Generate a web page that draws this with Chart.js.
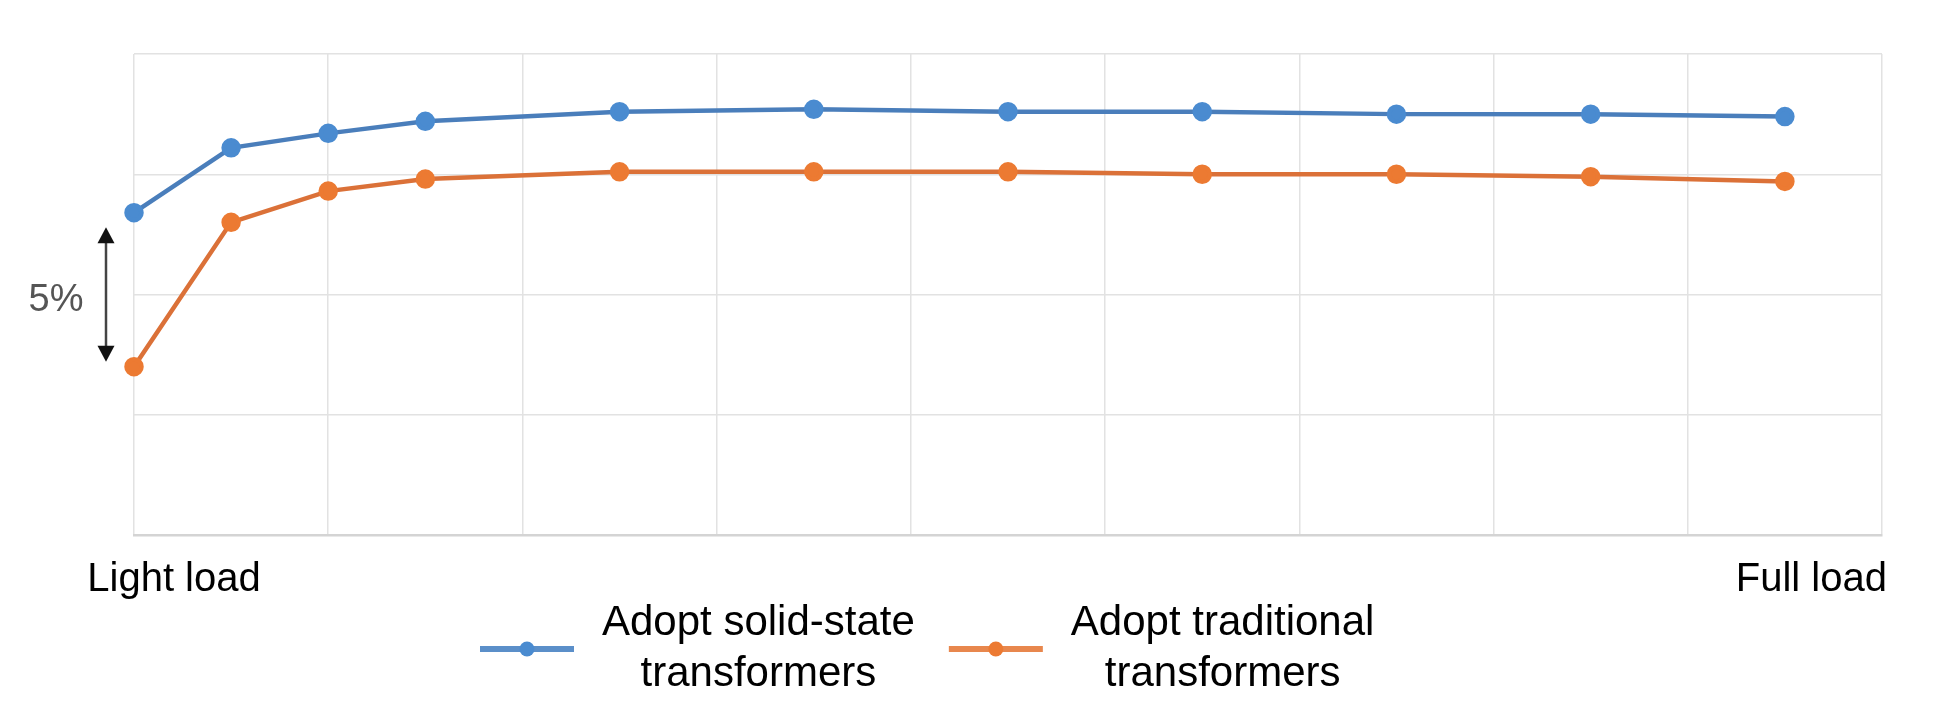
<!DOCTYPE html>
<html>
<head>
<meta charset="utf-8">
<title>Efficiency vs load</title>
<script src="https://cdn.jsdelivr.net/npm/chart.js@4.4.0/dist/chart.umd.min.js"></script>
<style>
    html, body { margin: 0; padding: 0; background: #fff; }
</style>
</head>
<body>
<canvas id="efficiencyChart" width="1942" height="723"></canvas>
<script>
// Load steps (x) and efficiency in % (y)
var loadSteps = [0, 0.5, 1, 1.5, 2.5, 3.5, 4.5, 5.5, 6.5, 7.5, 8.5];
var solidState = [93.4, 96.1, 96.7, 97.2, 97.6, 97.7, 97.6, 97.6, 97.5, 97.5, 97.4];
var traditional = [87.0, 93.0, 94.3, 94.8, 95.1, 95.1, 95.1, 95.0, 95.0, 94.9, 94.7];
var xTickLabels = ['Light load', 'Full load'];
var seriesNames = [['Adopt solid-state', 'transformers'], ['Adopt traditional', 'transformers']];
var gapLabel = '5%';
var gapRange = [87.2, 92.8];

var FONT = '"Liberation Sans", Arial, sans-serif';
Chart.defaults.font.family = FONT;

function toPoints(values) {
    return loadSteps.map(function (x, i) {
        return { x: x, y: values[i] };
    });
}

// Double arrow + "5%" on the left of the plot
var gapArrowPlugin = {
    id: 'gapArrow',
    afterDatasetsDraw: function (chart) {
        var ctx = chart.ctx;
        var yScale = chart.scales.y;
        var top = yScale.getPixelForValue(gapRange[1]);
        var bottom = yScale.getPixelForValue(gapRange[0]);
        var x = chart.chartArea.left - 28;

        ctx.save();
        ctx.strokeStyle = '#444';
        ctx.lineWidth = 2.5;
        ctx.beginPath();
        ctx.moveTo(x, top + 10);
        ctx.lineTo(x, bottom - 10);
        ctx.stroke();

        ctx.fillStyle = '#111';
        ctx.beginPath();
        ctx.moveTo(x, top);
        ctx.lineTo(x - 8.5, top + 16);
        ctx.lineTo(x + 8.5, top + 16);
        ctx.closePath();
        ctx.fill();
        ctx.beginPath();
        ctx.moveTo(x, bottom);
        ctx.lineTo(x - 8.5, bottom - 16);
        ctx.lineTo(x + 8.5, bottom - 16);
        ctx.closePath();
        ctx.fill();

        ctx.font = '38px ' + FONT;
        ctx.fillStyle = '#555';
        ctx.textAlign = 'center';
        ctx.textBaseline = 'middle';
        ctx.fillText(gapLabel, x - 50, (top + bottom) / 2 + 6);
        ctx.restore();
    }
};

// Legend with a line+dot marker and two-line centred text
var twoLineLegendPlugin = {
    id: 'twoLineLegend',
    afterDraw: function (chart, args, opts) {
        var ctx = chart.ctx;
        var x = opts.left;
        ctx.save();
        ctx.font = opts.fontSize + 'px ' + FONT;
        ctx.textAlign = 'center';
        ctx.textBaseline = 'middle';

        chart.data.datasets.forEach(function (ds) {
            var lines = ds.label;
            var textW = Math.max.apply(null, lines.map(function (l) { return ctx.measureText(l).width; }));

            ctx.strokeStyle = ds.legendColor;
            ctx.lineWidth = 6;
            ctx.beginPath();
            ctx.moveTo(x, opts.markerY);
            ctx.lineTo(x + opts.markerWidth, opts.markerY);
            ctx.stroke();
            ctx.fillStyle = ds.pointBackgroundColor;
            ctx.beginPath();
            ctx.arc(x + opts.markerWidth / 2, opts.markerY, 7.5, 0, Math.PI * 2);
            ctx.fill();

            var cx = x + opts.markerWidth + opts.gap + textW / 2;
            var y0 = opts.markerY - (lines.length - 1) * opts.lineHeight / 2;
            ctx.fillStyle = '#000';
            lines.forEach(function (l, i) {
                ctx.fillText(l, cx, y0 + i * opts.lineHeight);
            });

            x += opts.markerWidth + opts.gap + textW + opts.itemGap;
        });
        ctx.restore();
    }
};

var ctx = document.getElementById('efficiencyChart');

var chart = new Chart(ctx, {
    type: 'line',
    data: {
        datasets: [
            {
                label: seriesNames[0],
                data: toPoints(solidState),
                borderColor: '#4a7ebb',
                backgroundColor: '#4a8bd0',
                pointBackgroundColor: '#4a8bd0',
                pointBorderColor: '#4a8bd0',
                legendColor: '#5b8fc9',
                borderWidth: 4.5,
                pointRadius: 7.5,
                tension: 0,
                clip: false
            },
            {
                label: seriesNames[1],
                data: toPoints(traditional),
                borderColor: '#db7138',
                backgroundColor: '#ec7a32',
                pointBackgroundColor: '#ec7a32',
                pointBorderColor: '#ec7a32',
                legendColor: '#e8874d',
                borderWidth: 4.5,
                pointRadius: 7.5,
                tension: 0,
                clip: false
            }
        ]
    },
    options: {
        responsive: false,
        animation: false,
        layout: {
            padding: { left: 134, right: 60, top: 54, bottom: 0 }
        },
        plugins: {
            legend: { display: false },
            tooltip: { enabled: false },
            twoLineLegend: {
                left: 480,
                markerY: 649,
                markerWidth: 94,
                gap: 28,
                itemGap: 34,
                lineHeight: 51,
                fontSize: 42
            }
        },
        scales: {
            x: {
                type: 'linear',
                position: 'bottom',
                min: 0,
                max: 9,
                ticks: { stepSize: 1, display: false },
                grid: { color: '#e2e2e2', lineWidth: 1.5, drawTicks: false },
                border: { display: true, color: '#d4d4d4', width: 2.5 },
                afterFit: function (scale) { scale.height = 0; }
            },
            x2: {
                type: 'linear',
                position: 'bottom',
                min: 0,
                max: 9,
                grid: { display: false, drawTicks: false },
                border: { display: false },
                afterBuildTicks: function (scale) {
                    // label centres: under the left edge and near the right edge
                    scale.ticks = [{ value: 0.206 }, { value: 8.636 }];
                },
                ticks: {
                    autoSkip: false,
                    maxRotation: 0,
                    padding: 21,
                    color: '#000',
                    font: { size: 40 },
                    callback: function (value, index) { return xTickLabels[index]; }
                },
                afterFit: function (scale) { scale.height = 188; }
            },
            y: {
                min: 80,
                max: 100,
                ticks: { stepSize: 5, display: false },
                grid: { color: '#e2e2e2', lineWidth: 1.5, drawTicks: false },
                border: { display: false },
                afterFit: function (scale) { scale.width = 0; }
            }
        }
    },
    plugins: [gapArrowPlugin, twoLineLegendPlugin]
});
</script>
</body>
</html>
